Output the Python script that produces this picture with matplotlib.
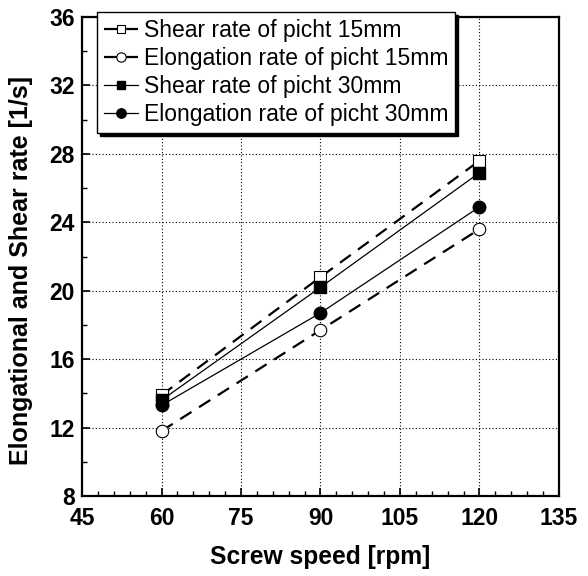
import matplotlib.pyplot as plt
import numpy as np

plt.rcParams['font.family'] = ['Liberation Sans', 'DejaVu Sans']

speed = [60, 90, 120]
shear_15 = [13.9, 20.8, 27.6]
elong_15 = [11.8, 17.7, 23.6]
shear_30 = [13.6, 20.2, 26.9]
elong_30 = [13.3, 18.7, 24.9]

fig = plt.figure(figsize=(5.88, 5.76), dpi=100)
ax = fig.add_axes([82/588, 80/576, 477/588, 479/576])

ax.plot(speed, shear_15, color='black', linestyle=(0, (6, 4)), lw=1.6,
        marker='s', ms=8, mfc='white', mec='black', mew=0.8,
        label='Shear rate of picht 15mm')
ax.plot(speed, elong_15, color='black', linestyle=(0, (6, 4)), lw=1.6,
        marker='o', ms=9, mfc='white', mec='black', mew=0.8,
        label='Elongation rate of picht 15mm')
ax.plot(speed, shear_30, color='black', linestyle='-', lw=0.9,
        marker='s', ms=8, mfc='black', mec='black',
        label='Shear rate of picht 30mm')
ax.plot(speed, elong_30, color='black', linestyle='-', lw=0.9,
        marker='o', ms=9, mfc='black', mec='black',
        label='Elongation rate of picht 30mm')

ax.set_xlim(45, 135)
ax.set_ylim(8, 36)
ax.set_xticks(np.arange(45, 136, 15))
ax.set_xticks(np.arange(45, 136, 3), minor=True)
ax.set_yticks(np.arange(8, 37, 4))
ax.set_yticks(np.arange(8, 37, 2), minor=True)
ax.tick_params(which='both', direction='in', top=False, right=False)
ax.tick_params(which='major', length=6, width=1.2, labelsize=16.5)
ax.tick_params(which='minor', length=3.5, width=1)
ax.tick_params(axis='x', which='major', pad=8)
ax.tick_params(axis='y', which='major', pad=5)
for lab in ax.get_xticklabels() + ax.get_yticklabels():
    lab.set_fontweight('bold')
ax.grid(which='major', linestyle=(0, (1, 2)), color='black', lw=0.8)
for s in ax.spines.values():
    s.set_linewidth(1.6)

ax.set_xlabel('Screw speed [rpm]', fontsize=17.7, fontweight='bold', labelpad=11)
ax.set_ylabel('Elongational and Shear rate [1/s]', fontsize=18, fontweight='bold')
ax.yaxis.set_label_coords(-0.103, 0.47)

leg = ax.legend(loc='upper left', bbox_to_anchor=(97/588, 1 - 12/576),
                bbox_transform=fig.transFigure, fontsize=16.5, frameon=True,
                fancybox=False, shadow={'color': 'black', 'alpha': 1},
                handlelength=1.5, handletextpad=0.25, labelspacing=0.22,
                borderpad=0.3, borderaxespad=0, markerscale=0.75)
leg.get_frame().set_edgecolor('black')
leg.get_frame().set_linewidth(1.0)
leg.set_zorder(5)

fig.savefig('out.png', dpi=100)
